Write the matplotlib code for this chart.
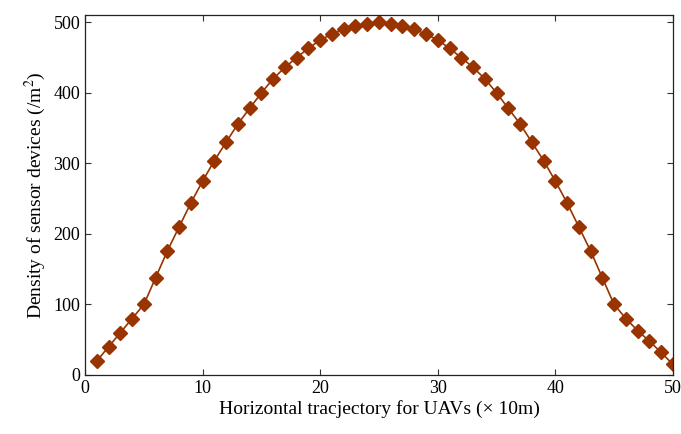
import numpy as np
import matplotlib
matplotlib.use('Agg')
import matplotlib.pyplot as plt

plt.rcParams['font.family'] = ['Liberation Serif', 'DejaVu Serif']
plt.rcParams['mathtext.fontset'] = 'stix'

# horizontal position along trajectory (x 10m)
x = list(range(1, 51))
# sensor device density (/m^2)
density = [20, 40, 60, 80, 100, 138, 176, 210, 244, 275,
           304, 330, 356, 378, 400, 420, 436, 450, 463, 475,
           483, 490, 495, 498, 500, 498, 495, 490, 483, 475,
           463, 450, 436, 420, 400, 378, 356, 330, 304, 275,
           244, 210, 176, 138, 100, 80, 63, 48, 32, 15]

color = '#993300'

fig = plt.figure(figsize=(6.81, 4.34), dpi=100)
ax = fig.add_axes([0.125, 0.136, 0.863, 0.829])
ax.plot(x, density, '-', color=color, lw=1.2, marker='D', ms=7.5,
        mfc=color, mec=color)

ax.set_xlim(0, 50)
ax.set_ylim(0, 510)
ax.set_xticks([0, 10, 20, 30, 40, 50])
ax.set_yticks([0, 100, 200, 300, 400, 500])
ax.tick_params(direction='in', top=True, right=True, labelsize=13, length=4,
               color='#333333')
for s in ax.spines.values():
    s.set_color('#222222')
    s.set_linewidth(0.9)

ax.set_xlabel('Horizontal tracjectory for UAVs (\u00d7 10m)', fontsize=14, labelpad=2)
ax.set_ylabel(r'Density of sensor devices (/m$^2$)', fontsize=14, labelpad=4)

fig.savefig('out.png', dpi=100)
